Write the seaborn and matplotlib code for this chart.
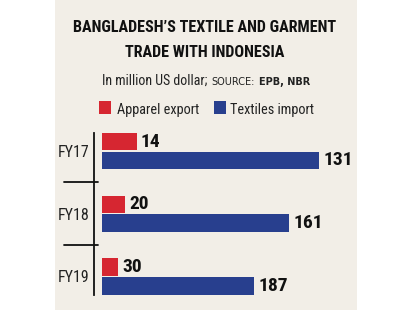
import matplotlib
matplotlib.use("Agg")
import matplotlib.pyplot as plt
import seaborn as sns
import pandas as pd
from matplotlib import font_manager
from matplotlib.patches import Rectangle
from matplotlib.transforms import blended_transform_factory

# ---------------- data ----------------
years = ["FY17", "FY18", "FY19"]
apparel_export = [14, 20, 30]
textiles_import = [131, 161, 187]
series_names = ["Apparel export", "Textiles import"]
series_colors = ["#d62631", "#283f8e"]

# The source graphic draws the bar lengths in reverse year order
# relative to the printed figures; reproduce that as published.
bar_apparel = apparel_export[::-1]
bar_textiles = textiles_import[::-1]

BG = "#f2eee7"

sns.set_style("white")
avail = {f.name for f in font_manager.fontManager.ttflist}
narrow = next((n for n in ["Roboto Condensed", "Liberation Sans Narrow",
                           "Open Sans Condensed", "Liberation Sans"] if n in avail),
              "DejaVu Sans")
plt.rcParams["font.family"] = [narrow, "DejaVu Sans"]

W, H = 412, 310
fig = plt.figure(figsize=(W / 100, H / 100), dpi=100, facecolor="white")


def fx(x):
    return x / W


def fy(y):
    return 1 - y / H


fig.patches.append(Rectangle((fx(55), 0), (357 - 55) / W, 1, transform=fig.transFigure,
                             facecolor=BG, edgecolor="none", zorder=-5))

ax = fig.add_axes([fx(94), fy(295), (357 - 94) / W, (295 - 132.5) / H])
ax.set_facecolor("none")
ax.set_zorder(3)

df = pd.DataFrame({
    "year": years * 2,
    "series": [series_names[0]] * len(years) + [series_names[1]] * len(years),
    "value": list(bar_apparel) + list(bar_textiles),
})

sns.barplot(data=df, x="value", y="year", hue="series", hue_order=series_names,
            order=years, palette=series_colors, orient="h", width=0.6, gap=0.07,
            saturation=1, errorbar=None, legend=False, linewidth=0, ax=ax)

ax.set_xlim(-6.6, 219.5)
ax.set_ylim(2.295, -0.295)
ax.set_xlabel("")
ax.set_ylabel("")
ax.set_xticks([])
for s in ["top", "right", "bottom"]:
    ax.spines[s].set_visible(False)
ax.spines["left"].set_color("#111111")
ax.spines["left"].set_linewidth(1.3)
ax.tick_params(axis="y", length=0, pad=3.4, labelsize=11.5, labelcolor="#222222")
for lab in ax.get_yticklabels():
    lab.set_family([narrow, "DejaVu Sans"])

# value labels
for cont, vals in zip(ax.containers, [apparel_export, textiles_import]):
    ax.bar_label(cont, labels=[str(v) for v in vals], padding=3,
                 fontsize=14, fontweight="bold", color="#111111",
                 family=[narrow, "DejaVu Sans"])

# group separators
tr = blended_transform_factory(ax.transAxes, ax.transData)
for yv in [0.5, 1.5]:
    ax.plot([-30 / 263, 4 / 263], [yv, yv], transform=tr, color="#111111",
            lw=1.3, clip_on=False)

# title
fig.text(fx(205), fy(31.7), "BANGLADESH’S TEXTILE AND GARMENT", ha="center",
         va="baseline", fontsize=11.6, fontweight="bold", color="#111111")
fig.text(fx(205), fy(56.7), "TRADE WITH INDONESIA", ha="center",
         va="baseline", fontsize=11.6, fontweight="bold", color="#111111")

# subtitle
renderer = fig.canvas.get_renderer()
t1 = fig.text(fx(101.7), fy(85), "In million US dollar;", va="baseline",
              fontsize=10, color="#222222")
x1 = t1.get_window_extent(renderer).x1
xs = max(207, x1 + 4)
t2 = fig.text(fx(xs), fy(85), "SOURCE:", va="baseline", fontsize=7,
              color="#222222", family="DejaVu Sans")
x2 = t2.get_window_extent(renderer).x1
fig.text(fx(x2 + 5), fy(85), "EPB, NBR", va="baseline", fontsize=7,
         fontweight="bold", color="#222222", family="DejaVu Sans")

# legend
leg_x = [99.3, 214.3]
txt_x = [116.7, 230]
for c, name, lx, tx in zip(series_colors, series_names, leg_x, txt_x):
    fig.patches.append(Rectangle((fx(lx), fy(114.3)), 11.4 / W, 13.5 / H,
                                 transform=fig.transFigure, facecolor=c,
                                 edgecolor="none", zorder=2))
    fig.text(fx(tx), fy(113.8), name, va="baseline", fontsize=10.3, color="#222222")

fig.savefig("out.png", dpi=100, facecolor="white")
